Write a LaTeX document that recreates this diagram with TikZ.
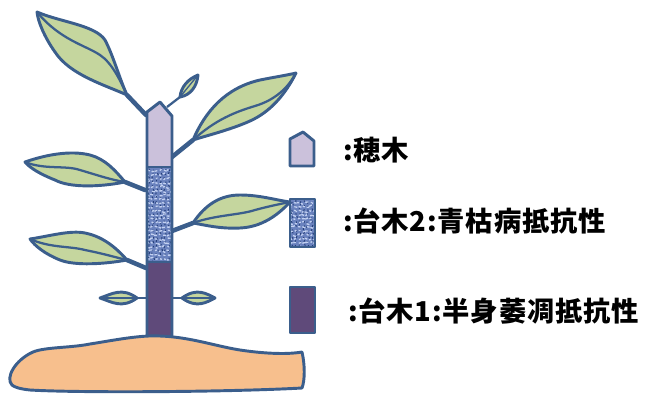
\documentclass[tikz,border=0pt]{standalone}
\usepackage{fontspec}
\newfontfamily\cjk{Noto Sans CJK JP}[LetterSpace=3]
\usepackage{tikz}

\definecolor{edge}{HTML}{3B5E8C}
\definecolor{leafgreen}{HTML}{C5D69E}
\definecolor{scion}{HTML}{CBC1DB}
\definecolor{stockone}{HTML}{5F4A7A}
\definecolor{stocktwo}{HTML}{6A82BE}
\definecolor{weavelight}{HTML}{C3D1F1}
\definecolor{weavedark}{HTML}{26407A}
\definecolor{soil}{HTML}{F7BF8D}

% woven texture of the second rootstock: corners x0 y0 x1 y1
\newcommand{\burlap}[4]{%
  \fill[stocktwo] (#1,#2) rectangle (#3,#4);
  \begin{scope}
    \clip (#1,#2) rectangle (#3,#4);
    \foreach \bx in {0,...,7}{
      \foreach \by in {0,...,25}{
        \draw[weavelight, line width=1pt] ({#1+\bx*4+rand},{#2+\by*4+rand}) -- ++({2.4+rand*0.8},{rand*1.4});
        \draw[weavedark, line width=0.7pt] ({#1+2+\bx*4+rand},{#2+2+\by*4+rand}) -- ++({rand},{1.8+rand*0.6});
      }
    }
  \end{scope}}

\begin{document}
\begin{tikzpicture}[x=0.75pt, y=-0.75pt, line join=round,
  outline/.style = {draw=edge, line width=2.2pt},
  leaf/.style = {outline, fill=leafgreen},
  rib/.style = {draw=edge, line width=1.7pt},
  petiole/.style = {draw=edge, line width=3.4pt, line cap=round},
  legendtext/.style = {anchor=west, inner sep=0pt,
    font=\cjk\bfseries\fontsize{20.5}{25}\selectfont}]

\useasboundingbox (0,0) rectangle (647,394);
\pgfmathsetseed{7}

% Points where the leaves join the stem

\coordinate (baseA) at (127,95);   \coordinate (joinA) at (146,115);
\coordinate (baseB) at (193,140);  \coordinate (joinB) at (172,157);
\coordinate (baseC) at (125,182);  \coordinate (joinC) at (145,190);
\coordinate (baseD) at (193,223);  \coordinate (joinD) at (172,231);
\coordinate (baseE) at (127,260);  \coordinate (joinE) at (146,268);

% Leaf stalks

\draw [petiole] (baseA) -- (joinA);
\draw [petiole] (baseB) -- (joinB);
\draw [petiole] (baseC) -- (joinC);
\draw [petiole] (baseD) -- (joinD);
\draw [petiole] (baseE) -- (joinE);

% Leaves, top left to bottom

\filldraw [leaf] (37,12) .. controls (60,22) and (95,25) .. (105,40)
  .. controls (113,55) and (120,80) .. (baseA)
  .. controls (105,85) and (70,75) .. (55,52)
  .. controls (45,38) and (38,22) .. cycle;
\draw [rib] (37,12) .. controls (60,40) and (85,45) .. (100,55)
  .. controls (112,63) and (120,80) .. (baseA);

\filldraw [leaf] (baseB) .. controls (205,112) and (225,88) .. (260,80)
  .. controls (275,77) and (288,75) .. (296,73)
  .. controls (285,95) and (270,112) .. (250,121)
  .. controls (230,130) and (205,136) .. cycle;
\draw [rib] (baseB) .. controls (215,120) and (235,112) .. (255,106)
  .. controls (275,100) and (288,88) .. (296,73);

\filldraw [leaf] (25,162) .. controls (45,155) and (70,150) .. (90,155)
  .. controls (105,159) and (115,170) .. (baseC)
  .. controls (100,187) and (70,188) .. (55,180)
  .. controls (40,174) and (30,168) .. cycle;
\draw [rib] (25,162) .. controls (45,170) and (65,165) .. (80,170)
  .. controls (100,176) and (112,180) .. (baseC);

\filldraw [leaf] (baseD) .. controls (205,205) and (220,195) .. (240,195)
  .. controls (260,195) and (275,200) .. (290,202)
  .. controls (278,215) and (262,227) .. (240,228)
  .. controls (220,229) and (205,225) .. cycle;
\draw [rib] (baseD) .. controls (215,215) and (240,215) .. (255,210)
  .. controls (270,206) and (280,204) .. (290,202);

\filldraw [leaf] (30,239) .. controls (50,236) and (70,230) .. (85,233)
  .. controls (105,237) and (118,250) .. (baseE)
  .. controls (105,264) and (75,266) .. (60,260)
  .. controls (45,254) and (35,246) .. cycle;
\draw [rib] (30,239) .. controls (50,248) and (70,246) .. (85,250)
  .. controls (105,254) and (118,258) .. (baseE);

% Buds

\draw [rib] (167,107) -- (180,97);
\filldraw [leaf] (180,97) .. controls (181,87) and (188,79) .. (198,75)
  .. controls (197,86) and (191,95) .. cycle;
\draw [rib, line width=1pt] (180,97) -- (198,75);

\draw [rib] (137,298) -- (147,298);
\filldraw [leaf] (100,298) .. controls (112,294) and (122,287) .. (137,298)
  .. controls (122,309) and (112,302) .. cycle;
\draw [rib, line width=1pt] (100,298) -- (137,298);

\draw [rib] (172,298) -- (182,298);
\filldraw [leaf] (182,298) .. controls (197,287) and (207,294) .. (215,298)
  .. controls (207,302) and (197,309) .. cycle;
\draw [rib, line width=1pt] (182,298) -- (215,298);

% Stem: scion on top, rootstock 2, rootstock 1

\fill [scion] (147,167) -- (147,112) -- (160,102) -- (172,116) -- (172,167) -- cycle;
\burlap{147}{167}{172}{262}
\fill [stockone] (147,262) rectangle (172,338);
\draw [outline] (147,338) -- (147,112) -- (160,102) -- (172,116) -- (172,338);
\draw [outline] (147,167) -- (172,167);
\draw [outline] (147,262) -- (172,262);

% Soil

\filldraw [outline, fill=soil] (12,385) .. controls (5,378) and (15,360) .. (33,352)
  .. controls (45,347) and (70,348) .. (90,344)
  .. controls (115,340) and (140,335) .. (160,336)
  .. controls (190,337) and (215,346) .. (240,350)
  .. controls (260,353) and (285,355) .. (302,352)
  .. controls (305,365) and (305,380) .. (302,388)
  .. controls (230,392) and (80,393) .. (30,390)
  .. controls (20,389) and (14,387) .. cycle;

% Legend

\filldraw [outline, fill=scion] (290,166) -- (290,139) -- (303,132) -- (314,141) -- (314,166) -- cycle;
\node [legendtext] (scionText) at (343,150) {:穂木};

\burlap{290}{199}{315}{247}
\draw [outline] (290,199) rectangle (315,247);
\node [legendtext] (stockTwoText) at (343,221) {:台木2:青枯病抵抗性};

\filldraw [outline, fill=stockone] (290,287) rectangle (315,333);
\node [legendtext] (stockOneText) at (348,311) {:台木1:半身萎凋抵抗性};

\end{tikzpicture}
\end{document}
